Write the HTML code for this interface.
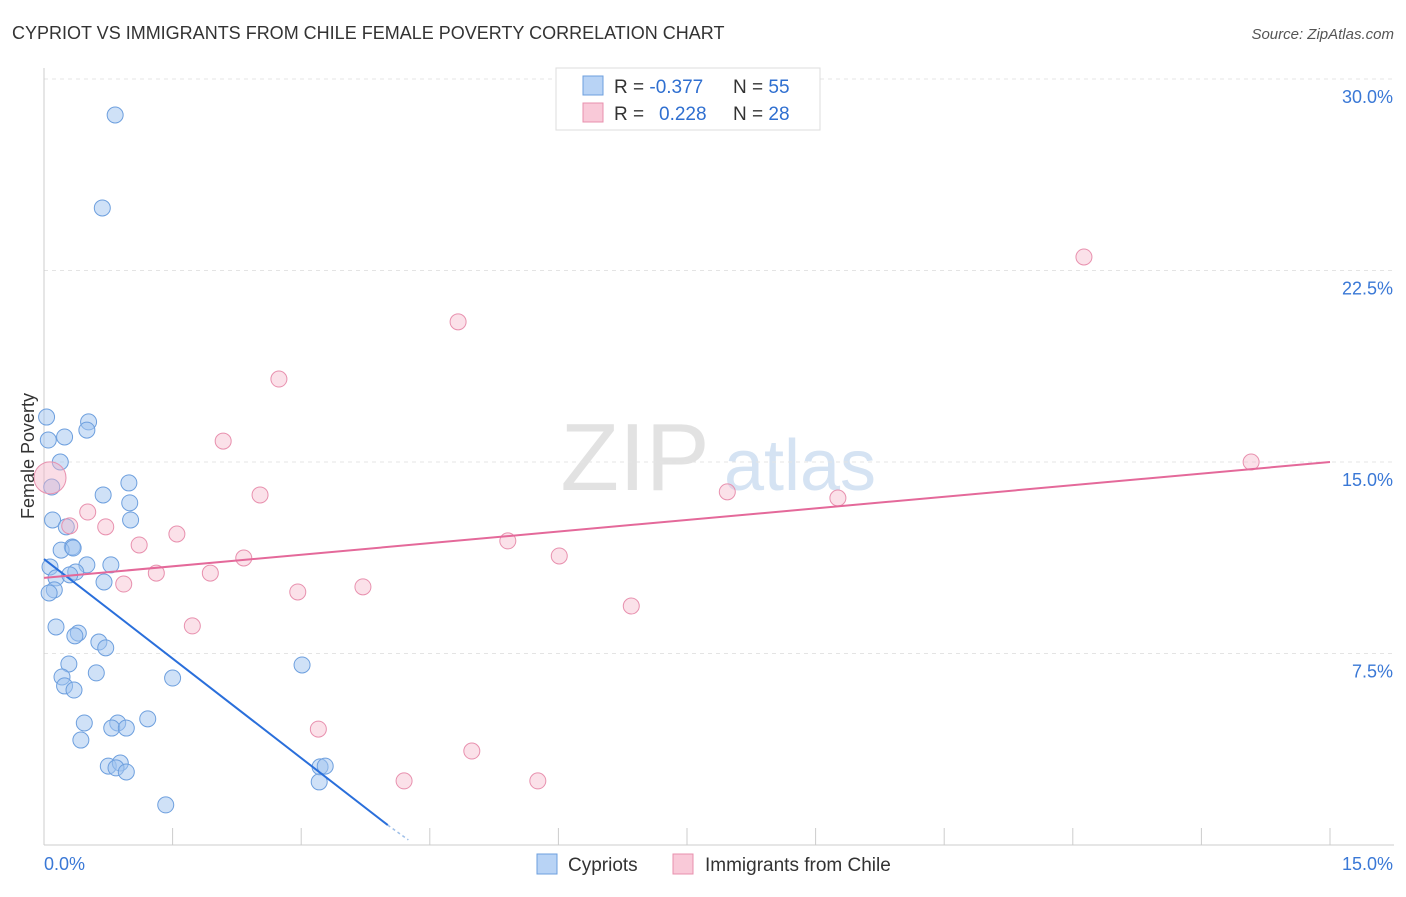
<!DOCTYPE html>
<html><head><meta charset="utf-8">
<style>
body{margin:0;background:#fff;font-family:"Liberation Sans",sans-serif;}
svg text{font-family:"Liberation Sans",sans-serif;}
</style></head>
<body>
<svg id="chart" width="1406" height="892">
<text x="12" y="39" font-size="18" fill="#333">CYPRIOT VS IMMIGRANTS FROM CHILE FEMALE POVERTY CORRELATION CHART</text>
<text x="1394" y="39" font-size="15" fill="#555" text-anchor="end" font-style="italic">Source: ZipAtlas.com</text>
<g>
<text x="635" y="490" font-size="96" fill="#e2e2e2" font-family="Liberation Serif, serif" text-anchor="middle">ZIP</text>
<text x="800" y="490" font-size="72" fill="#d5e3f3" text-anchor="middle">atlas</text>
</g>
<g id="grid"></g>
<g id="axes"></g>
<g id="marks"></g>
<text transform="translate(34,456) rotate(-90)" font-size="18" fill="#333" text-anchor="middle">Female Poverty</text>
<g>
<rect x="556" y="68" width="264" height="62" fill="#fff" stroke="#ddd"/>
<rect x="583" y="76" width="20" height="19" fill="#b8d3f5" stroke="#6d9fde"/>
<rect x="583" y="103" width="20" height="19" fill="#f9c9d8" stroke="#e890ae"/>
<text x="614" y="93" font-size="19" fill="#333">R = <tspan fill="#2f6fd0">-0.377</tspan><tspan x="733">N = </tspan><tspan fill="#2f6fd0">55</tspan></text>
<text x="614" y="120" font-size="19" fill="#333">R = <tspan x="659" fill="#2f6fd0">0.228</tspan><tspan x="733">N = </tspan><tspan fill="#2f6fd0">28</tspan></text>
</g>
<g>
<rect x="537" y="854" width="20" height="20" fill="#b8d3f5" stroke="#6d9fde"/>
<text x="568" y="871" font-size="19" fill="#333">Cypriots</text>
<rect x="673" y="854" width="20" height="20" fill="#f9c9d8" stroke="#e890ae"/>
<text x="705" y="871" font-size="19" fill="#333">Immigrants from Chile</text>
</g>
</svg>
<script>
const yTicks=[7.5,15,22.5,30];
const yTickLabels=["7.5%","15.0%","22.5%","30.0%"];
const xEnds=[0,15];
const xEndLabels=["0.0%","15.0%"];
const blueX=[0.83,0.68,0.03,0.52,0.50,0.05,0.24,0.19,0.09,0.99,0.69,1.00,0.10,1.01,0.26,0.33,0.20,0.34,0.50,0.78,0.07,0.14,0.37,0.30,0.70,0.12,0.06,0.14,0.40,0.36,0.64,0.72,0.29,0.61,3.01,0.21,1.50,0.24,0.35,0.47,1.21,0.86,0.79,0.96,0.43,0.75,0.89,0.84,0.96,3.22,3.28,3.21,1.42];
const blueY=[28.59,24.95,16.76,16.57,16.25,15.86,15.98,15.00,14.02,14.18,13.71,13.40,12.73,12.73,12.46,11.67,11.55,11.63,10.97,10.97,10.89,10.46,10.69,10.58,10.30,9.99,9.87,8.54,8.30,8.19,7.95,7.72,7.09,6.74,7.05,6.58,6.54,6.23,6.07,4.78,4.94,4.78,4.58,4.58,4.11,3.09,3.21,3.02,2.86,3.06,3.09,2.47,1.57];
const pinkX=[12.13,4.83,2.74,2.09,2.52,0.51,0.30,0.72,1.55,1.11,2.33,5.41,6.01,1.31,1.94,0.93,2.96,3.72,6.85,1.73,3.20,4.99,4.20,5.76,7.97,9.26,14.08];
const pinkY=[23.03,20.49,18.25,15.82,13.71,13.04,12.50,12.46,12.18,11.75,11.24,11.91,11.32,10.65,10.65,10.22,9.91,10.11,9.36,8.58,4.54,3.68,2.51,2.51,13.83,13.59,15.00];
const bigPink=[0.07,14.38];
const blueTrend=[[0,11.2],[4.01,0.78]];
const blueTrendDash=[[4.01,0.78],[4.25,0.2]];
const pinkTrend=[[0,10.46],[15,15.0]];

const X0=44,X1=1330,Y0=845,Y1=79;
const sx=v=>X0+(v-0)/(15-0)*(X1-X0);
const sy=v=>Y0-(v-0)/(30-0)*(Y0-Y1);
const NS="http://www.w3.org/2000/svg";
function mk(tag,attrs,parent){const e=document.createElementNS(NS,tag);for(const k in attrs)e.setAttribute(k,attrs[k]);parent.appendChild(e);return e;}
const grid=document.getElementById('grid'),axes=document.getElementById('axes'),marks=document.getElementById('marks');
yTicks.forEach((t,i)=>{
 const l=mk('line',{x1:X0,x2:1394,y1:sy(t),y2:sy(t),stroke:'#e4e4e4','stroke-dasharray':'4,4'},grid);
 
 
 const tx=mk('text',{x:1393,y:sy(t)+24,'font-size':18,fill:'#3a78d6','text-anchor':'end'},axes);
 tx.textContent=yTickLabels[i];
 
 
});
const ya=mk('line',{x1:X0,x2:X0,y1:68,y2:Y0,stroke:'#ccc'},axes);


const xa=mk('line',{x1:X0,x2:1394,y1:Y0,y2:Y0,stroke:'#ccc'},axes);


for(let i=1;i<=10;i++){
 const v=i*1.5;
 const t=mk('line',{x1:sx(v),x2:sx(v),y1:828,y2:Y0,stroke:'#ccc'},axes);
 
 
}
xEnds.forEach((v,i)=>{
 const tx=mk('text',{x:i==0?sx(v):sx(v)+63,y:870,'font-size':18,fill:'#3a78d6','text-anchor':i==0?'start':'end'},axes);
 tx.textContent=xEndLabels[i];
 
 
});
blueX.forEach((x,i)=>{
 const c=mk('circle',{cx:sx(x),cy:sy(blueY[i]),r:8,fill:'rgba(160,196,240,0.5)',stroke:'#6d9fde','stroke-width':1},marks);
 
 
});
const bp=mk('circle',{cx:sx(bigPink[0]),cy:sy(bigPink[1]),r:16,fill:'rgba(245,180,200,0.45)',stroke:'#e890ae'},marks);


pinkX.forEach((x,i)=>{
 const c=mk('circle',{cx:sx(x),cy:sy(pinkY[i]),r:8,fill:'rgba(245,180,200,0.4)',stroke:'#e890ae','stroke-width':1},marks);
 
 
});
const bt=mk('line',{x1:sx(blueTrend[0][0]),y1:sy(blueTrend[0][1]),x2:sx(blueTrend[1][0]),y2:sy(blueTrend[1][1]),stroke:'#2a6fdb','stroke-width':2},marks);


const bd=mk('line',{x1:sx(blueTrendDash[0][0]),y1:sy(blueTrendDash[0][1]),x2:sx(blueTrendDash[1][0]),y2:sy(blueTrendDash[1][1]),stroke:'#9fbfe8','stroke-width':1.5,'stroke-dasharray':'3,3'},marks);


const pt=mk('line',{x1:sx(pinkTrend[0][0]),y1:sy(pinkTrend[0][1]),x2:sx(pinkTrend[1][0]),y2:sy(pinkTrend[1][1]),stroke:'#e4699a','stroke-width':2},marks);


</script>
</body></html>
